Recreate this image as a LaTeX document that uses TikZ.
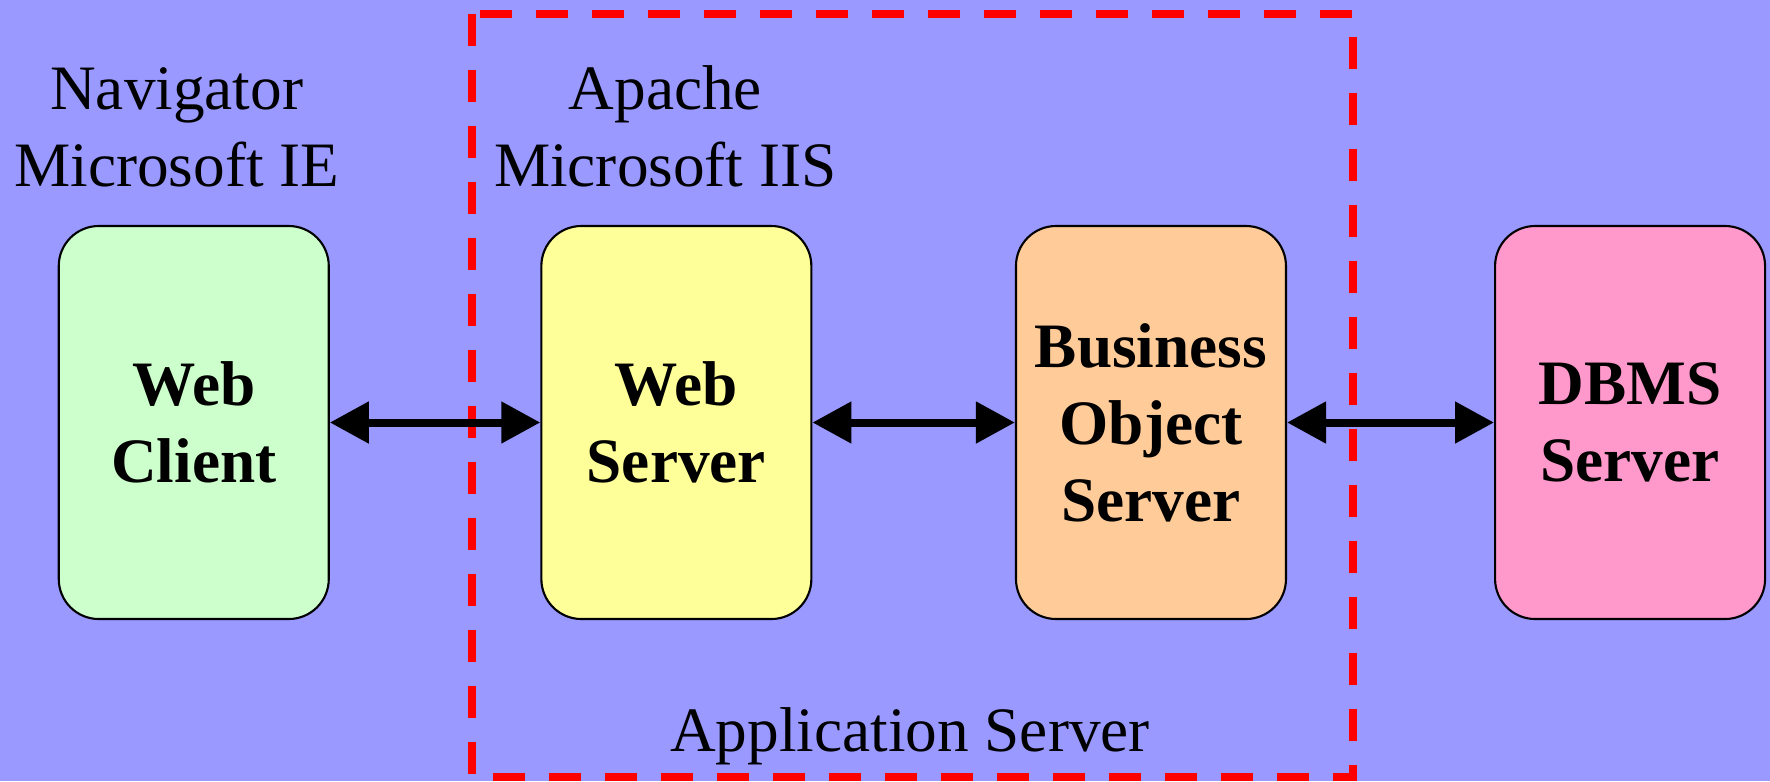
\documentclass[tikz,border=0pt]{standalone}
\usepackage{fontspec}
\setmainfont{Liberation Serif}
\usetikzlibrary{matrix, arrows.meta, positioning}

\definecolor{bgblue}{HTML}{9999FF}
\definecolor{clientgreen}{HTML}{CCFFCC}
\definecolor{serveryellow}{HTML}{FFFF99}
\definecolor{bizorange}{HTML}{FFCC99}
\definecolor{dbpink}{HTML}{FF99CC}
\newcommand\diagfont{\fontsize{18}{21.9}\selectfont}

\begin{document}
\begin{tikzpicture}[
  every node/.style={font=\diagfont},
  tier/.style={draw, line width=0.6pt, rounded corners=0.4cm, minimum width=2.7cm,
               minimum height=3.93cm, align=center, inner sep=2pt, font=\diagfont\bfseries},
  lbl/.style={align=center, inner sep=0pt},
  link/.style={{Triangle[length=0.39cm,width=0.4cm]}-{Triangle[length=0.39cm,width=0.4cm]},
               line width=0.08cm},
  frame/.style={draw=red, line width=0.08cm, dash pattern=on 0.32cm off 0.24cm}]
\fill[bgblue] (0,0) rectangle (17.7,7.81);
\useasboundingbox (0,0) rectangle (17.7,7.81);
\matrix (m) [column sep=2.06cm, inner sep=0pt, anchor=west] at (0.57,3.585) {
\node[tier, fill=clientgreen](wc){Web\\Client}; &[0.045cm]
\node[tier, fill=serveryellow](ws){Web\\Server}; &[-0.035cm]
\node[tier, fill=bizorange](bos){Business\\Object\\Server}; &[0.01cm]
\node[tier, fill=dbpink](db){DBMS\\Server}; \\
};
% application server frame
\draw[frame] (4.72,7.67) rectangle (13.53,0.04);
\draw[link] (wc) -- (ws);
\draw[link] (ws) -- (bos);
\draw[link] (bos) -- (db);
\node[lbl, above=0.37cm of wc, xshift=-0.17cm](nav){Navigator\\Microsoft IE};
\node[lbl, above=0.37cm of ws, xshift=-0.11cm](httpd){Apache\\Microsoft IIS};
\node[lbl, anchor=base](app) at (9.1,0.30){Application Server};
\end{tikzpicture}
\end{document}
